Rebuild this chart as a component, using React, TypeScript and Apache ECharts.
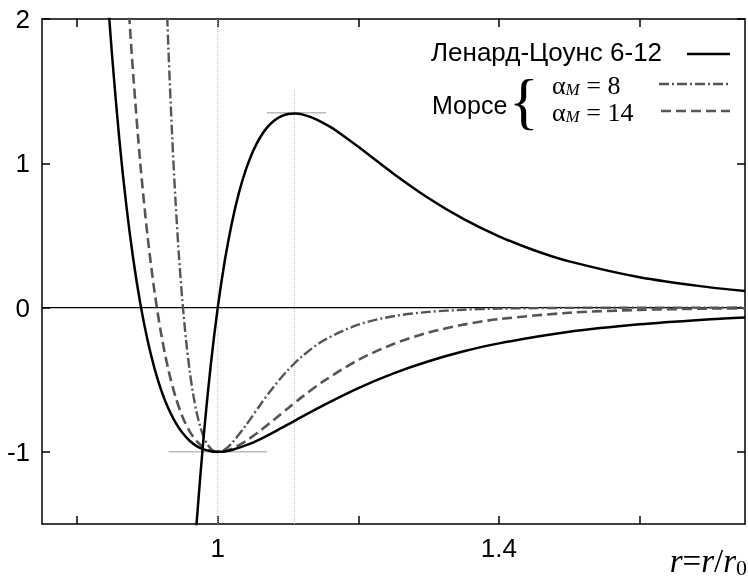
import React, { useEffect, useRef } from "react";
import * as echarts from "echarts";

// Lennard-Jones 6-12 potential
const ljR = [0.84, 0.845, 0.85, 0.86, 0.87, 0.88, 0.89, 0.9, 0.91, 0.92, 0.93, 0.94, 0.95, 0.96, 0.97, 0.98, 0.99, 1.0, 1.01, 1.02, 1.05, 1.08, 1.11, 1.15, 1.2, 1.25, 1.3, 1.35, 1.4, 1.5, 1.6, 1.7, 1.75];
const ljU = [2.41, 2.052, 1.728, 1.166, 0.706, 0.33, 0.024, -0.223, -0.421, -0.579, -0.702, -0.798, -0.87, -0.923, -0.96, -0.983, -0.996, -1.0, -0.997, -0.987, -0.936, -0.863, -0.783, -0.678, -0.558, -0.456, -0.372, -0.303, -0.248, -0.168, -0.116, -0.081, -0.068];

// Lennard-Jones force-like curve
const fR = [0.965, 0.97, 0.98, 0.99, 1.0, 1.01, 1.02, 1.03, 1.04, 1.05, 1.06, 1.07, 1.08, 1.09, 1.1, 1.11, 1.12, 1.14, 1.16, 1.18, 1.2, 1.25, 1.3, 1.35, 1.4, 1.45, 1.5, 1.6, 1.7, 1.75];
const fV = [-1.835, -1.489, -0.891, -0.4, 0.0, 0.324, 0.585, 0.793, 0.956, 1.082, 1.177, 1.247, 1.295, 1.325, 1.341, 1.345, 1.339, 1.305, 1.252, 1.186, 1.114, 0.928, 0.758, 0.613, 0.494, 0.397, 0.32, 0.21, 0.14, 0.115];

// Morse, dashed curve
const mDashR = [0.87, 0.875, 0.88, 0.89, 0.9, 0.91, 0.92, 0.93, 0.94, 0.95, 0.96, 0.97, 0.98, 0.99, 1.0, 1.01, 1.02, 1.04, 1.06, 1.08, 1.1, 1.12, 1.15, 1.2, 1.25, 1.3, 1.35, 1.4, 1.5, 1.6, 1.7, 1.75];
const mDashU = [2.346, 1.952, 1.598, 0.991, 0.502, 0.112, -0.196, -0.436, -0.62, -0.758, -0.858, -0.926, -0.97, -0.993, -1.0, -0.994, -0.978, -0.925, -0.855, -0.777, -0.697, -0.619, -0.512, -0.363, -0.252, -0.173, -0.118, -0.08, -0.036, -0.016, -0.007, -0.005];

// Morse, dash-dot curve
const mDotR = [0.92, 0.925, 0.93, 0.935, 0.94, 0.945, 0.95, 0.955, 0.96, 0.965, 0.97, 0.975, 0.98, 0.985, 0.99, 0.995, 1.0, 1.01, 1.02, 1.04, 1.06, 1.08, 1.1, 1.12, 1.15, 1.2, 1.25, 1.3, 1.35, 1.4, 1.5, 1.6, 1.75];
const mDotU = [3.264, 2.451, 1.771, 1.203, 0.733, 0.345, 0.028, -0.23, -0.436, -0.6, -0.728, -0.824, -0.896, -0.945, -0.977, -0.995, -1.0, -0.983, -0.94, -0.816, -0.677, -0.546, -0.432, -0.338, -0.23, -0.118, -0.06, -0.03, -0.015, -0.007, -0.002, -0.0005, 0];

// Axis ticks and labels
const xTicks = [0.8, 1.0, 1.2, 1.4, 1.6];
const xLabels = [1, 1.4];
const yTicks = [-1, 0, 1, 2];
const yLabels = [-1, 0, 1, 2];

// Guide lines
const minGuideX = [0.93, 1.07];
const minGuideY = -1;
const maxGuideX = [1.07, 1.154];
const maxGuideY = 1.35;
const rMin = 1.0;
const rMax = 1.109;
const rMaxTop = 1.52;

const zip = (xs: number[], ys: number[]) => xs.map((x, i) => [x, ys[i]]);

export default function App() {
  const ref = useRef<HTMLDivElement>(null);
  useEffect(() => {
    if (!ref.current) return;
    const chart = echarts.init(ref.current, null, { renderer: "svg" });
    const sans = "Liberation Sans";
    const serif = "Liberation Serif";
    const axisCommon = {
      type: "value" as const,
      splitLine: { show: false },
      axisLine: { show: true, onZero: false, lineStyle: { color: "#000", width: 1.5 } },
    };
    const guide = (data: number[][], dotted: boolean) => ({
      type: "line",
      data,
      symbol: "none",
      silent: true,
      z: 1,
      lineStyle: { color: dotted ? "#bdbdbd" : "#bbbbbb", width: dotted ? 1 : 1.5, type: dotted ? "dotted" : "solid" },
    });
    const alphaRich = {
      a: { fontSize: 26, lineHeight: 26, fontFamily: serif, fill: "#000", verticalAlign: "bottom" },
      m: { fontSize: 17, lineHeight: 26, fontFamily: serif, fontStyle: "italic", fill: "#000", verticalAlign: "bottom" },
    };
    chart.setOption({
      animation: false,
      grid: { left: 42, right: 3, top: 19, bottom: 55, containLabel: false, outerBoundsMode: "none" },
      xAxis: [
        {
          ...axisCommon,
          position: "bottom",
          min: 0.75,
          max: 1.75,
          axisTick: { show: true, inside: true, length: 8, customValues: xTicks, lineStyle: { color: "#000", width: 1.5 } },
          axisLabel: {
            show: true,
            customValues: xLabels,
            fontSize: 26,
            fontFamily: sans,
            color: "#000",
            margin: 11,
            formatter: (v: number) => String(v),
          },
        },
        {
          ...axisCommon,
          position: "top",
          min: 0.75,
          max: 1.75,
          axisTick: { show: true, inside: true, length: 8, customValues: xTicks, lineStyle: { color: "#000", width: 1.5 } },
          axisLabel: { show: false },
        },
      ],
      yAxis: [
        {
          ...axisCommon,
          position: "left",
          min: -1.5,
          max: 2,
          axisTick: { show: true, inside: true, length: 8, customValues: yTicks, lineStyle: { color: "#000", width: 1.5 } },
          axisLabel: {
            show: true,
            customValues: yLabels,
            fontSize: 26,
            fontFamily: sans,
            color: "#000",
            margin: 12,
            formatter: (v: number) => String(v),
          },
        },
        {
          ...axisCommon,
          position: "right",
          min: -1.5,
          max: 2,
          axisTick: { show: true, inside: true, length: 8, customValues: yTicks, lineStyle: { color: "#000", width: 1.5 } },
          axisLabel: { show: false },
        },
      ],
      series: [
        guide([[rMin, -1.5], [rMin, 2]], true),
        guide([[rMax, -1.5], [rMax, rMaxTop]], true),
        guide([[minGuideX[0], minGuideY], [minGuideX[1], minGuideY]], false),
        guide([[maxGuideX[0], maxGuideY], [maxGuideX[1], maxGuideY]], false),
        {
          type: "line",
          data: [[0.75, 0], [1.75, 0]],
          symbol: "none",
          silent: true,
          z: 2,
          lineStyle: { color: "#000", width: 1.2 },
        },
        {
          type: "line",
          data: zip(mDotR, mDotU),
          symbol: "none",
          smooth: 0.3,
          clip: true,
          z: 3,
          lineStyle: { color: "#555555", width: 2.4, type: [10, 3, 2, 3] },
        },
        {
          type: "line",
          data: zip(mDashR, mDashU),
          symbol: "none",
          smooth: 0.3,
          clip: true,
          z: 3,
          lineStyle: { color: "#555555", width: 2.6, type: [10, 5] },
        },
        {
          type: "line",
          data: zip(ljR, ljU),
          symbol: "none",
          smooth: 0.3,
          clip: true,
          z: 4,
          lineStyle: { color: "#000", width: 2.5 },
        },
        {
          type: "line",
          data: zip(fR, fV),
          symbol: "none",
          smooth: 0.3,
          clip: true,
          z: 4,
          lineStyle: { color: "#000", width: 2.5 },
        },
      ],
      graphic: [
        {
          type: "text",
          left: 431,
          top: 39,
          style: { text: "Ленард-Цоунс 6-12", fontSize: 26, fontFamily: sans, fill: "#000" },
        },
        {
          type: "line",
          shape: { x1: 687, y1: 54, x2: 730, y2: 54 },
          style: { stroke: "#000", lineWidth: 2.5 },
        },
        {
          type: "text",
          left: 432,
          top: 92,
          style: { text: "Морсе", fontSize: 25, fontFamily: sans, fill: "#000" },
        },
        {
          type: "text",
          left: 509,
          top: 70,
          style: { text: "{", fontSize: 62, fontFamily: serif, fill: "#000" },
        },
        {
          type: "text",
          left: 552,
          top: 72,
          style: { text: "{a|α}{m|M}{a| = 8}", rich: alphaRich },
        },
        {
          type: "text",
          left: 552,
          top: 99,
          style: { text: "{a|α}{m|M}{a| = 14}", rich: alphaRich },
        },
        {
          type: "line",
          shape: { x1: 659, y1: 84, x2: 730, y2: 84 },
          style: { stroke: "#555555", lineWidth: 2.4, lineDash: [10, 3, 2, 3] },
        },
        {
          type: "line",
          shape: { x1: 661, y1: 111, x2: 730, y2: 111 },
          style: { stroke: "#555555", lineWidth: 2.6, lineDash: [10, 5] },
        },
        {
          type: "text",
          right: 1,
          top: 544,
          style: {
            text: "{i|r}{n|=}{i|r}{n|/}{i|r}{s|0}",
            rich: {
              i: { fontSize: 33, fontFamily: serif, fontStyle: "italic", fill: "#000" },
              n: { fontSize: 33, fontFamily: serif, fill: "#000" },
              s: { fontSize: 22, fontFamily: serif, fill: "#000", verticalAlign: "bottom", padding: [14, 0, 0, 0] },
            },
          },
        },
      ],
    });
    return () => chart.dispose();
  }, []);
  return <div ref={ref} style={{ position: "fixed", left: 0, top: 0, width: 748, height: 579 }} />;
}
